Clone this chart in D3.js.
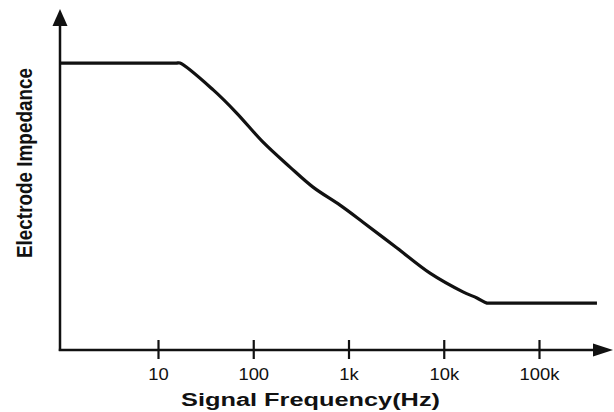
<!DOCTYPE html>
<html>
<head>
<meta charset="utf-8">
<script src="https://cdn.jsdelivr.net/npm/d3@7"></script>
<style>
  html, body { margin: 0; padding: 0; background: #fff; }
  svg { display: block; }
  text { font-family: "Liberation Sans", Arial, sans-serif; fill: #111; }
</style>
</head>
<body>
<svg id="chart" width="614" height="412"></svg>
<script>
// ---- data ----
const tickValues = [10, 100, 1000, 10000, 100000];
const tickLabels = ["10", "100", "1k", "10k", "100k"];
const frequency = [0.94, 15.5, 17, 38, 67, 126, 243, 424, 815, 1420, 3230, 7170, 15900, 22300, 28400, 31000, 406000];
const impedance = [84.4, 84.4, 84.4, 76.5, 69.7, 61.2, 53.8, 47.9, 42.6, 37.6, 30.0, 22.6, 17.1, 15.3, 13.8, 13.8, 13.8];
const xTitle = "Signal Frequency(Hz)";
const yTitle = "Electrode Impedance";

// ---- layout ----
const originX = 60, originY = 350, xEnd = 613, yEnd = 9;
const svg = d3.select("#chart");

const x = d3.scaleLog().domain([10, 100000]).range([158, 539]);
const y = d3.scaleLinear().domain([0, 100]).range([originY, originY - 340]);

// axes lines
svg.append("line").attr("x1", originX).attr("y1", originY + 1).attr("x2", originX).attr("y2", yEnd + 12)
  .attr("stroke", "#111").attr("stroke-width", 2.5);
svg.append("line").attr("x1", originX - 1.2).attr("y1", originY).attr("x2", xEnd - 12).attr("y2", originY)
  .attr("stroke", "#111").attr("stroke-width", 2.5);
// arrowheads
svg.append("path").attr("d", `M${originX},${yEnd} L${originX - 7.5},${yEnd + 17} L${originX + 7.5},${yEnd + 17} Z`).attr("fill", "#111");
svg.append("path").attr("d", `M${xEnd},${originY} L${xEnd - 20},${originY - 6.5} L${xEnd - 20},${originY + 6.5} Z`).attr("fill", "#111");

// ticks via d3 axis
const axis = d3.axisBottom(x).tickValues(tickValues).tickFormat((d, i) => tickLabels[i]).tickSize(0);
const gAxis = svg.append("g").attr("transform", `translate(0,${originY})`).call(axis);
gAxis.select(".domain").remove();
gAxis.selectAll(".tick line").remove();
gAxis.selectAll(".tick").append("line")
  .attr("y1", -10).attr("y2", 9).attr("stroke", "#111").attr("stroke-width", 2.2);
gAxis.selectAll(".tick text")
  .attr("y", 0).attr("dy", null)
  .attr("transform", "translate(0,30) scale(1.15,1)")
  .style("font-size", "16px").style("fill", "#111")
  .attr("font-family", "Liberation Sans, Arial, sans-serif");

// curve
const line = d3.line().x(d => x(d[0])).y(d => y(d[1])).curve(d3.curveCatmullRom.alpha(0.5));
const pts = frequency.map((f, i) => [f, impedance[i]]);
svg.append("path").datum(pts).attr("d", line)
  .attr("fill", "none").attr("stroke", "#111").attr("stroke-width", 3.2)
  .attr("stroke-linejoin", "round");

// titles
svg.append("text").attr("x", 310.5).attr("y", 406).attr("text-anchor", "middle")
  .style("font-size", "18px").style("font-weight", "bold")
  .attr("textLength", 259).attr("lengthAdjust", "spacingAndGlyphs")
  .text(xTitle);
svg.append("text").attr("transform", "translate(32,163) rotate(-90)").attr("text-anchor", "middle")
  .style("font-size", "22px").style("font-weight", "bold")
  .attr("textLength", 190).attr("lengthAdjust", "spacingAndGlyphs")
  .text(yTitle);
</script>
</body>
</html>
